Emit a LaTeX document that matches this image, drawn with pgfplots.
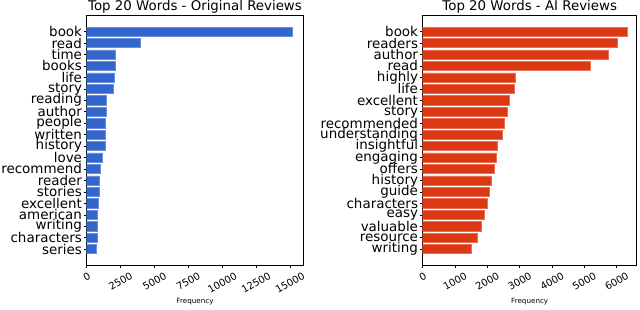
\documentclass[border=0pt]{standalone}
\usepackage{pgfplots}
\pgfplotsset{compat=1.18}
\usepackage{fontspec}
\setmainfont{DejaVu Sans}
\definecolor{gblue}{HTML}{3366CC}
\definecolor{gblueedge}{HTML}{6A8EDB}
\definecolor{gred}{HTML}{DC3912}
\definecolor{grededge}{HTML}{E8705A}
\pgfplotsset{
  common/.style={
    scale only axis, height=249.3bp, anchor=south west,
    xbar, bar width=0.8, y dir=reverse,
    ymin=-1.39, ymax=20.39, xmin=0,
    ytick={0,...,19},
    tick align=outside, tick pos=left, major tick length=3bp,
    every tick/.style={black, line width=0.5bp},
    axis line style={line width=0.7bp},
    yticklabel style={font=\fontsize{13.5}{13.5}\selectfont, inner sep=1.5bp},
    scaled x ticks=false,
    /pgf/number format/assume math mode=true,
    /pgf/number format/1000 sep={},
    xticklabel={\rotatebox{30}{\pgfmathprintnumber{\tick}}},
    xticklabel style={font=\fontsize{10}{10}\selectfont, anchor=north, inner sep=0pt, yshift=-3.5bp},
    title style={at={(0.5,1)}, anchor=base, yshift=-0.3bp, font=\fontsize{13.4}{13.4}\selectfont},
    xlabel=Frequency,
    xlabel style={at={(axis description cs:0.5,0)}, anchor=base, yshift=-38.5bp, font=\fontsize{7.2}{7.2}\selectfont},
  }
}
\begin{document}
\begin{tikzpicture}
\path[use as bounding box] (0,0) rectangle (640bp,310bp);
\begin{axis}[common, at={(86.7bp,45bp)}, width=216.6bp,
  xmax=15982, xtick={0,2500,...,15000},
  title={Top 20 Words - Original Reviews},
  yticklabels={book,read,time,books,life,story,reading,author,people,written,history,love,recommend,reader,stories,excellent,american,writing,characters,series}]
\addplot[fill=gblue, draw=gblueedge, line width=0.5bp] coordinates {
(15170,0) (3985,1) (2090,2) (2110,3) (2040,4) (1965,5) (1475,6) (1470,7) (1400,8) (1395,9)
(1350,10) (1130,11) (980,12) (910,13) (900,14) (860,15) (780,16) (775,17) (760,18) (710,19)};
\end{axis}
\begin{axis}[common, at={(422.7bp,45bp)}, width=214bp,
  xmax=6619, xtick={0,1000,...,6000},
  title={Top 20 Words - AI Reviews},
  yticklabels={book,readers,author,read,highly,life,excellent,story,recommended,understanding,insightful,engaging,offers,history,guide,characters,easy,valuable,resource,writing}]
\addplot[fill=gred, draw=grededge, line width=0.5bp] coordinates {
(6330,0) (6031,1) (5753,2) (5196,3) (2877,4) (2824,5) (2680,6) (2629,7) (2536,8) (2453,9)
(2298,10) (2278,11) (2206,12) (2134,13) (2072,14) (2010,15) (1897,16) (1814,17) (1690,18) (1494,19)};
\end{axis}
\end{tikzpicture}
\end{document}
